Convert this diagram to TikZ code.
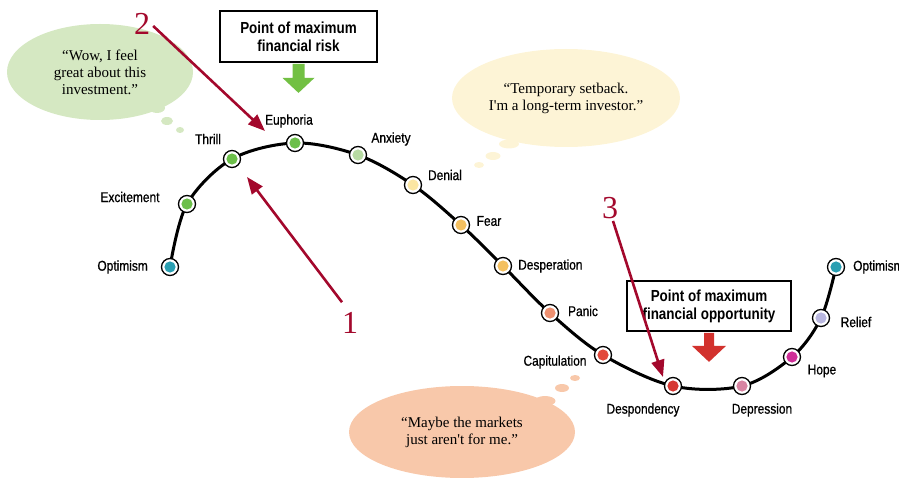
\documentclass[tikz,border=0pt]{standalone}
\usepackage{fontspec}
\setmainfont{Liberation Serif}
\newfontfamily\condsans[FakeStretch=0.84,FakeBold=0.8]{Liberation Sans}
\newfontfamily\condsansbf[FakeStretch=0.84]{Liberation Sans Bold}
\usetikzlibrary{arrows.meta,shapes.geometric}

\definecolor{annotred}{HTML}{A3082C}
\definecolor{teal}{HTML}{2A9FB2}
\definecolor{grn}{HTML}{6CBF4A}
\definecolor{ltgrn}{HTML}{B7DBA2}
\definecolor{ltyel}{HTML}{FBE6A2}
\definecolor{amber}{HTML}{F4C060}
\definecolor{salmon}{HTML}{EE9070}
\definecolor{red1}{HTML}{E2483A}
\definecolor{red2}{HTML}{D63833}
\definecolor{pink1}{HTML}{D884A2}
\definecolor{magenta1}{HTML}{CF2F98}
\definecolor{lav}{HTML}{B9B7DF}
\definecolor{wowfill}{HTML}{D5E8C2}
\definecolor{tempfill}{HTML}{FDF4D6}
\definecolor{maybefill}{HTML}{F8C8AA}
\definecolor{riskgreen}{HTML}{72C043}
\definecolor{opred}{HTML}{D2322E}

\tikzset{
  stage/.style={circle, draw=black, line width=1.3pt, fill=white,
    minimum size=17pt, inner sep=0pt,
    path picture={\fill[#1] (path picture bounding box.center) circle (5.6pt);}},
  stagelabel/.style={font=\condsans\fontsize{14.2}{15}\selectfont, inner sep=1pt},
  bubble/.style={ellipse, inner sep=0pt, align=center,
    font=\fontsize{15}{17}\selectfont},
  puff/.style={ellipse, inner sep=0pt},
  pointbox/.style={draw=black, line width=1.8pt, fill=white, align=center,
    font=\condsansbf\fontsize{16}{18}\selectfont},
  annot/.style={draw=annotred, line width=2.6pt,
    -{Triangle[length=17pt,width=13pt]}},
  annotnum/.style={text=annotred, font=\fontsize{32}{32}\selectfont, inner sep=0pt}
}

\begin{document}
\begin{tikzpicture}[x=1pt,y=-1pt]

  \useasboundingbox (0,0) rectangle (899,478);

  % thought bubbles
  \node[bubble, fill=wowfill, minimum width=186, minimum height=96] (wow) at (100,72)
    {``Wow, I feel\\great about this\\investment.''};
  \node[puff, fill=wowfill, minimum width=16, minimum height=10] (wowa) at (157,108) {};
  \node[puff, fill=wowfill, minimum width=12, minimum height=8] (wowb) at (167,121) {};
  \node[puff, fill=wowfill, minimum width=8, minimum height=6] (wowc) at (180,130) {};

  \node[bubble, fill=tempfill, minimum width=228, minimum height=98] (temp) at (566,98)
    {``Temporary setback.\\I\textquotesingle m a long-term investor.''};
  \node[puff, fill=tempfill, minimum width=20, minimum height=9] (tempa) at (509,144) {};
  \node[puff, fill=tempfill, minimum width=15, minimum height=8] (tempb) at (493,156) {};
  \node[puff, fill=tempfill, minimum width=10, minimum height=6] (tempc) at (479,165) {};

  \node[bubble, fill=maybefill, minimum width=226, minimum height=92] (maybe) at (462,432)
    {``Maybe the markets\\just aren\textquotesingle t for me.''};
  \node[puff, fill=maybefill, minimum width=21, minimum height=10] (maybea) at (545,401) {};
  \node[puff, fill=maybefill, minimum width=14, minimum height=8] (maybeb) at (562,388) {};
  \node[puff, fill=maybefill, minimum width=10, minimum height=6] (maybec) at (575,378) {};

  % points of the cycle
  \coordinate (optimismA) at (170,267);
  \coordinate (excitement) at (187,204);
  \coordinate (thrill) at (232,159);
  \coordinate (euphoria) at (295,143);
  \coordinate (anxiety) at (358,155);
  \coordinate (denial) at (413,185);
  \coordinate (fear) at (461,225);
  \coordinate (desperation) at (503,266);
  \coordinate (panic) at (550,313);
  \coordinate (capitulation) at (603,355);
  \coordinate (despondency) at (673,386);
  \coordinate (depression) at (742,386);
  \coordinate (hope) at (792,357);
  \coordinate (relief) at (821,318);
  \coordinate (optimismB) at (836,267);

  \draw[line width=3pt] plot[smooth, tension=0.55] coordinates {(optimismA) (excitement)
    (thrill) (euphoria) (anxiety) (denial) (fear) (desperation) (panic) (capitulation)
    (despondency) (depression) (hope) (relief) (optimismB)};

  \node[stage=teal] at (optimismA) {};
  \node[stage=grn] at (excitement) {};
  \node[stage=grn] at (thrill) {};
  \node[stage=grn] at (euphoria) {};
  \node[stage=ltgrn] at (anxiety) {};
  \node[stage=ltyel] at (denial) {};
  \node[stage=amber] at (fear) {};
  \node[stage=amber] at (desperation) {};
  \node[stage=salmon] at (panic) {};
  \node[stage=red1] at (capitulation) {};
  \node[stage=red2] at (despondency) {};
  \node[stage=pink1] at (depression) {};
  \node[stage=magenta1] at (hope) {};
  \node[stage=lav] at (relief) {};
  \node[stage=teal] at (optimismB) {};

  \node[stagelabel, anchor=east] (lbloptA) at (149,267) {Optimism};
  \node[stagelabel] (lblexc) at (130,197) {Excitement};
  \node[stagelabel] (lblthr) at (208,139) {Thrill};
  \node[stagelabel] (lbleup) at (289,121) {Euphoria};
  \node[stagelabel] (lblanx) at (391,139) {Anxiety};
  \node[stagelabel] (lblden) at (445,175) {Denial};
  \node[stagelabel] (lblfear) at (489,221) {Fear};
  \node[stagelabel, anchor=west] (lbldesp) at (517,266) {Desperation};
  \node[stagelabel] (lblpan) at (583,311) {Panic};
  \node[stagelabel] (lblcap) at (555,362) {Capitulation};
  \node[stagelabel] (lbldsp) at (643,410) {Despondency};
  \node[stagelabel] (lbldpr) at (762,410) {Depression};
  \node[stagelabel] (lblhope) at (822,371) {Hope};
  \node[stagelabel] (lblrel) at (856,322) {Relief};
  \node[stagelabel, anchor=west] (lbloptB) at (852,267) {Optimism};

  % points of maximum risk and opportunity
  \node[pointbox, minimum width=157, minimum height=51] (risk) at (298.5,36.5)
    {Point of maximum\\financial risk};
  \fill[riskgreen] (risk.south) ++(-6,1) -- ++(12,0) -- ++(0,14) -- ++(10,0)
    -- ++(-16,15) -- ++(-16,-15) -- ++(10,0) -- cycle;

  \node[pointbox, minimum width=164, minimum height=50] (opport) at (709,306)
    {Point of maximum\\financial opportunity};
  \fill[opred] (opport.south) ++(-5,1) -- ++(10,0) -- ++(0,13) -- ++(12,0)
    -- ++(-17,16) -- ++(-17,-16) -- ++(12,0) -- cycle;

  % numbered annotations
  \node[annotnum] (num2) at (142,24) {2};
  \coordinate (tip2) at (265,131);
  \draw[annot] (num2.east) ++(3,2) -- (tip2);

  \node[annotnum] (num1) at (350,323) {1};
  \coordinate (tip1) at (247,177);
  \draw[annot] (num1.north) ++(-8,-10) -- (tip1);

  \node[annotnum] (num3) at (610,208) {3};
  \coordinate (tip3) at (663,377);
  \draw[annot] (num3.south) ++(3,2) -- (tip3);

\end{tikzpicture}
\end{document}
